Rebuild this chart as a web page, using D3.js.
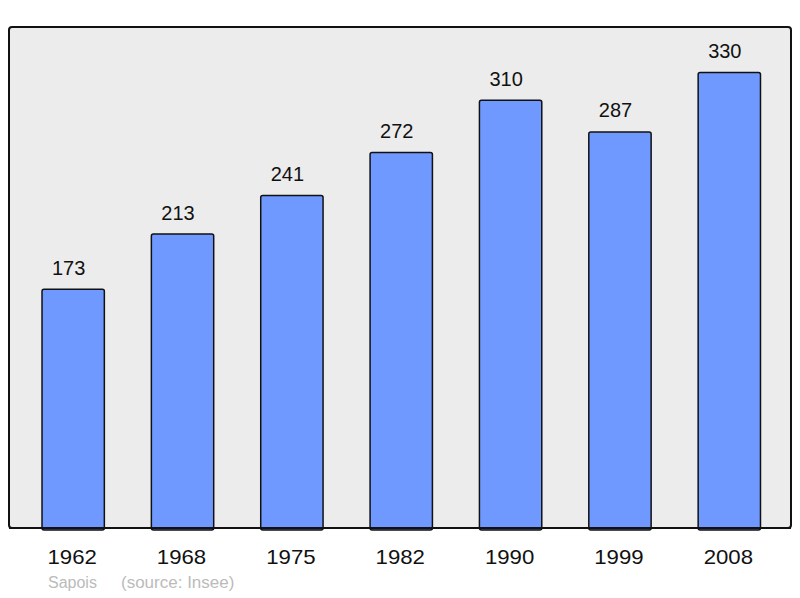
<!DOCTYPE html>
<html><head><meta charset="utf-8">
<script src="https://cdn.jsdelivr.net/npm/d3@7"></script>
<style>body{margin:0;background:#fff}svg{display:block}text{font-family:"Liberation Sans",Arial,sans-serif}</style>
</head><body>
<svg id="c" width="800" height="598"></svg>
<script>
const years = ["1962","1968","1975","1982","1990","1999","2008"];
const population = [173,213,241,272,310,287,330];
const townName = "Sapois";
const sourceText = "(source: Insee)";

const svg = d3.select("#c");
const frame = {x0: 9, y0: 27, x1: 791, y1: 528};

svg.append("rect").attr("x", frame.x0).attr("y", frame.y0)
  .attr("width", frame.x1 - frame.x0).attr("height", frame.y1 - frame.y0)
  .attr("rx", 3).attr("fill", "#ececec").attr("stroke", "#111").attr("stroke-width", 2);

const x = d3.scaleBand().domain(years).range([18.5, 784]).paddingInner(0.43).paddingOuter(0.215);
const y = d3.scaleLinear().domain([0, 363]).range([frame.y1, frame.y0]);

const g = svg.append("g");
g.selectAll("rect.bar").data(years).join("rect").attr("class", "bar")
  .attr("x", d => x(d)).attr("width", x.bandwidth())
  .attr("y", (d, i) => y(population[i])).attr("height", (d, i) => y(0) - y(population[i]) + 2)
  .attr("rx", 2).attr("fill", "#7099ff").attr("stroke", "#111").attr("stroke-width", 1.5);

g.selectAll("text.val").data(years).join("text").attr("class", "val")
  .attr("x", d => x(d) + x.bandwidth() / 2 - 4.5).attr("y", (d, i) => y(population[i]) - 14.5)
  .attr("text-anchor", "middle").attr("font-size", 20).attr("fill", "#111")
  .text((d, i) => population[i]);

svg.append("line").attr("x1", frame.x0).attr("x2", frame.x1).attr("y1", frame.y1).attr("y2", frame.y1)
  .attr("stroke", "#111").attr("stroke-width", 2);

const axis = d3.axisBottom(x).tickSize(0).tickPadding(0);
const ax = svg.append("g").attr("transform", `translate(0,${frame.y1})`).call(axis);
ax.select(".domain").remove();
ax.selectAll(".tick text").attr("font-size", 20).attr("fill", "#111").attr("dy", null).attr("y", 0)
  .attr("transform", "translate(-1,35.5) scale(1.11,1)")
  .style("font-family", '"Liberation Sans",Arial,sans-serif');

svg.append("text").attr("x", 48).attr("y", 588).attr("font-size", 16).attr("fill", "#bbb").text(townName);
svg.append("text").attr("x", 121).attr("y", 588).attr("font-size", 17).attr("fill", "#bbb").text(sourceText);
</script>
</body></html>
